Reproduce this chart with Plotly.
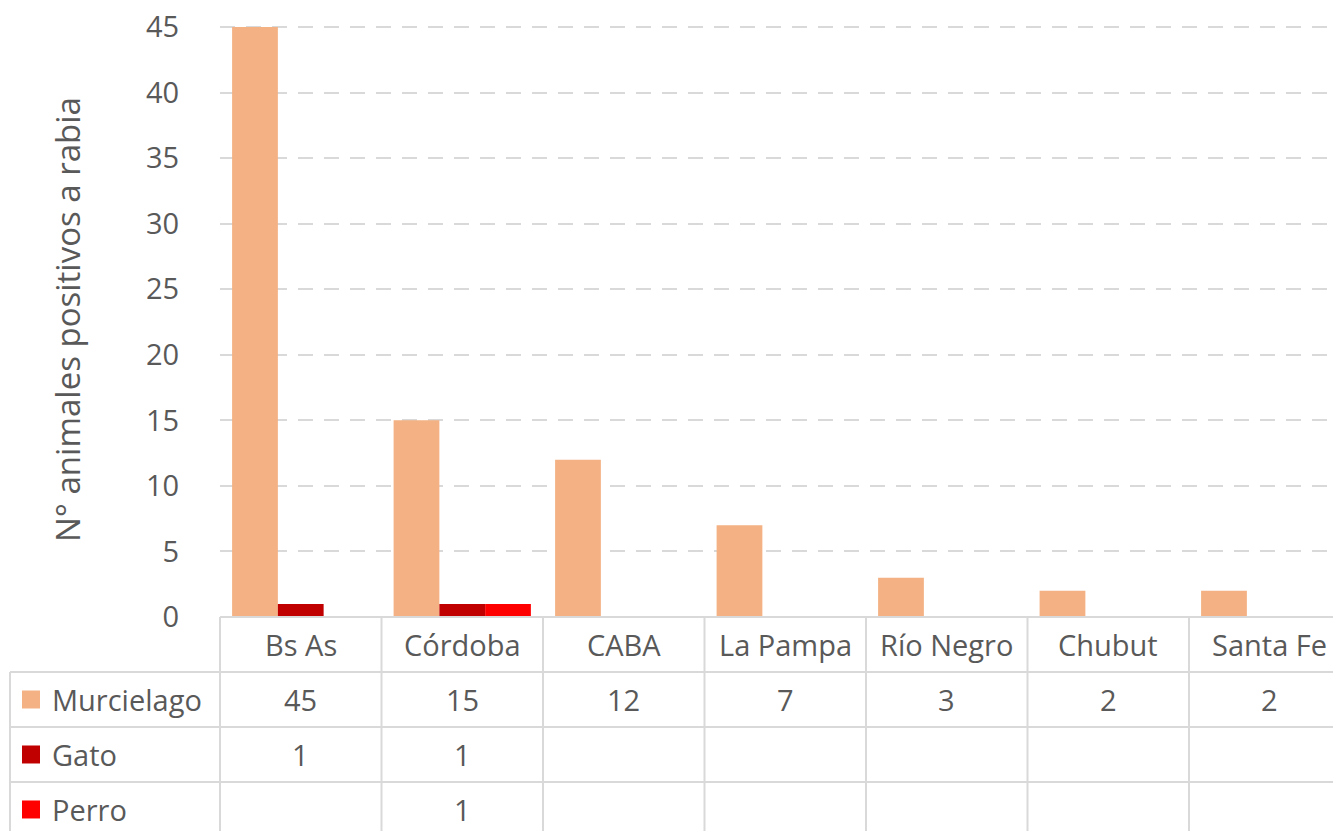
import plotly.graph_objects as go

# Datos
provincias = ['Bs As', 'Córdoba', 'CABA', 'La Pampa', 'Río Negro', 'Chubut', 'Santa Fe']
murcielago = [45, 15, 12, 7, 3, 2, 2]
gato = [1, 1, None, None, None, None, None]
perro = [None, 1, None, None, None, None, None]

series = [
    ('Murcielago', murcielago, '#F4B183'),
    ('Gato', gato, '#C00000'),
    ('Perro', perro, '#FF0000'),
]

y_ticks = [0, 5, 10, 15, 20, 25, 30, 35, 40, 45]

# Geometría (px)
W, H = 1333, 831
left, bottom = 220, 214
y_top = 45.08
top = 27 - (y_top - 45) * (590 / 45)
plot_w = W - left
plot_h = H - top - bottom
row_h = 55
legend_left = 10
x_min = -0.5
x_max = -0.5 + plot_w / 161.5

FONT = 'Open Sans'
GREY = '#595959'
GRID = '#D9D9D9'
FS = 29


def px_x(px):
    return (px - left) / plot_w


def px_y(px):
    return (H - bottom - px) / plot_h


def cat_x(v):
    return (v - x_min) / (x_max - x_min)


fig = go.Figure()
for name, vals, color in series:
    fig.add_trace(go.Bar(
        x=provincias, y=vals, name=name,
        marker=dict(color=color, line=dict(width=0)),
        showlegend=False,
    ))

shapes = []
annotations = []
y0 = H - bottom
table_bottom = H + 5

# Líneas horizontales de la tabla
shapes.append(dict(type='line', xref='paper', yref='paper',
                   x0=0, x1=1.05, y0=0, y1=0,
                   line=dict(color=GRID, width=2)))
for r in range(1, 4):
    yy = px_y(y0 + r * row_h)
    shapes.append(dict(type='line', xref='paper', yref='paper',
                       x0=px_x(legend_left), x1=1.05, y0=yy, y1=yy,
                       line=dict(color=GRID, width=2)))

# Líneas verticales de la tabla
for i in range(len(provincias) + 1):
    xx = cat_x(i - 0.5)
    if xx > 1.01:
        continue
    shapes.append(dict(type='line', xref='paper', yref='paper',
                       x0=xx, x1=xx, y0=0, y1=px_y(table_bottom),
                       line=dict(color=GRID, width=2)))
shapes.append(dict(type='line', xref='paper', yref='paper',
                   x0=px_x(legend_left), x1=px_x(legend_left),
                   y0=px_y(y0 + row_h), y1=px_y(table_bottom),
                   line=dict(color=GRID, width=2)))

# Encabezados de categoría
for p in provincias:
    annotations.append(dict(x=p, xref='x', y=px_y(y0 + row_h / 2), yref='paper',
                            text=p, showarrow=False, yanchor='middle',
                            font=dict(size=FS, color=GREY, family=FONT)))

# Filas de la tabla con leyenda
for r, (name, vals, color) in enumerate(series, start=1):
    cy = y0 + r * row_h + row_h / 2
    shapes.append(dict(type='rect', xref='paper', yref='paper',
                       x0=px_x(22), x1=px_x(40), y0=px_y(cy - 9), y1=px_y(cy + 9),
                       fillcolor=color, line=dict(width=0)))
    annotations.append(dict(x=px_x(50), xref='paper', y=px_y(cy), yref='paper',
                            text=name, showarrow=False, xanchor='left', yanchor='middle',
                            font=dict(size=FS, color=GREY, family=FONT)))
    for p, v in zip(provincias, vals):
        if v is None:
            continue
        annotations.append(dict(x=p, xref='x', y=px_y(cy), yref='paper',
                                text=str(v), showarrow=False, yanchor='middle',
                                font=dict(size=FS, color=GREY, family=FONT)))

# Título del eje Y
annotations.append(dict(x=px_x(67), xref='paper', y=px_y(320), yref='paper',
                        text='N° animales positivos a rabia', textangle=-90,
                        showarrow=False, xanchor='center', yanchor='middle',
                        font=dict(size=33, color=GREY, family=FONT)))

fig.update_layout(
    width=W, height=H,
    margin=dict(l=left, r=0, t=top, b=bottom, autoexpand=False),
    plot_bgcolor='white', paper_bgcolor='white',
    barmode='group', bargap=0.15, bargroupgap=0,
    font=dict(family=FONT, color=GREY),
    xaxis=dict(range=[x_min, x_max], showticklabels=False, showgrid=False,
               zeroline=False, showline=False, ticks='', automargin=False),
    yaxis=dict(range=[0, y_top], tickvals=y_ticks, showgrid=True, gridcolor=GRID,
               griddash='15px,11px', gridwidth=2, zeroline=False, showline=False,
               ticks='outside', ticklen=34, tickcolor='rgba(0,0,0,0)', automargin=False,
               tickfont=dict(size=FS, color=GREY, family=FONT)),
    shapes=shapes,
    annotations=annotations,
)

# quitar el margen por defecto del <body>
fig.write_html('out.html', config={'displayModeBar': False},
               post_script="document.body.style.margin='0';")
